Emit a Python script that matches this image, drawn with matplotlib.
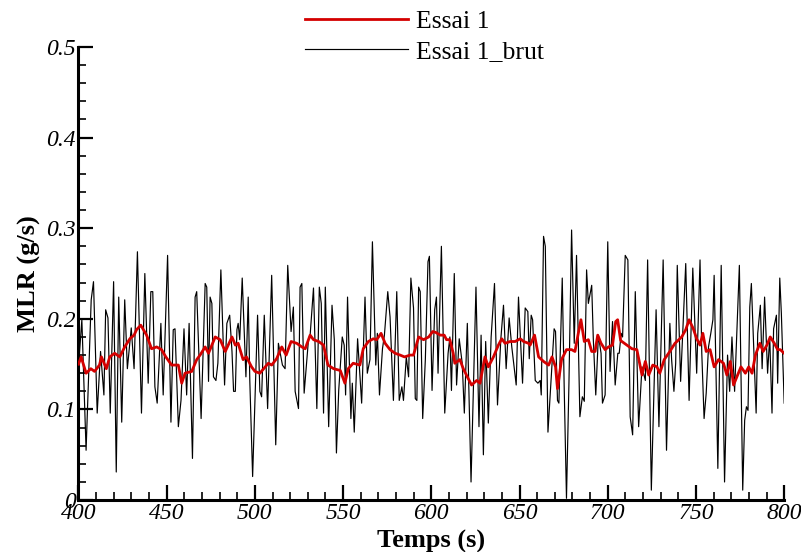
import numpy as np
import matplotlib
matplotlib.use('Agg')
import matplotlib.pyplot as plt
from matplotlib.ticker import MultipleLocator

# raw signal (Essai 1_brut)
t_brut = [400.0, 401.9, 404.3, 407.2, 408.5, 410.6, 412.5, 414.4, 415.4, 416.7,
          418.0, 419.9, 421.4, 422.8, 424.5, 426.2, 427.7, 429.9, 431.5, 433.4,
          435.7, 437.6, 439.5, 441.0, 442.1, 443.3, 444.6, 446.7, 448.0, 450.5,
          452.4, 453.7, 454.7, 456.6, 458.1, 459.8, 461.3, 462.7, 464.6, 466.1,
          467.0, 469.5, 471.8, 472.7, 473.7, 474.6, 475.6, 476.5, 477.9, 479.0,
          480.7, 482.8, 484.1, 485.7, 487.0, 487.9, 488.9, 489.8, 490.5, 491.4,
          492.8, 494.9, 496.2, 497.1, 498.7, 501.5, 502.8, 503.8, 505.3, 507.2,
          509.5, 511.8, 513.3, 515.6, 517.1, 518.6, 520.5, 521.8, 522.8, 524.7,
          525.6, 526.6, 527.9, 530.4, 531.3, 533.2, 535.1, 536.5, 537.6, 538.9,
          539.9, 541.8, 543.7, 545.0, 546.2, 547.5, 549.5, 550.6, 551.4, 552.5,
          554.4, 555.2, 556.3, 558.2, 560.5, 562.4, 563.7, 565.2, 566.6, 568.5,
          569.4, 570.6, 572.3, 573.4, 575.3, 576.6, 578.5, 580.4, 581.8, 583.3,
          584.2, 585.8, 587.1, 588.4, 589.9, 590.9, 591.8, 592.8, 593.7, 595.1,
          596.6, 598.1, 598.9, 600.4, 601.9, 602.9, 603.8, 605.7, 607.6, 609.5,
          610.5, 611.4, 613.0, 614.3, 615.8, 617.5, 618.7, 620.4, 622.5, 625.3,
          627.0, 628.2, 629.5, 630.8, 632.3, 633.9, 635.8, 637.5, 639.4, 640.9,
          642.4, 644.1, 645.6, 648.1, 649.4, 651.7, 653.2, 654.7, 655.5, 656.6,
          657.4, 658.9, 660.4, 661.7, 662.3, 663.6, 664.6, 666.1, 668.0, 669.6,
          670.4, 671.5, 672.3, 674.2, 675.3, 676.6, 678.0, 679.5, 681.0, 682.3,
          684.2, 685.6, 686.7, 688.0, 689.0, 690.9, 691.8, 693.2, 694.7, 696.2,
          697.0, 698.5, 700.0, 701.3, 702.7, 704.2, 705.7, 706.5, 707.6, 708.4,
          709.9, 711.4, 712.7, 714.1, 715.6, 717.5, 719.4, 721.3, 722.6, 724.7,
          727.4, 729.0, 731.4, 733.3, 735.2, 736.2, 737.5, 738.5, 739.4, 741.3,
          744.2, 746.1, 748.2, 750.4, 752.3, 753.3, 754.6, 755.8, 757.1, 758.4,
          759.6, 760.3, 762.4, 764.3, 766.2, 767.9, 769.1, 770.4, 771.9, 774.6,
          776.5, 777.6, 778.6, 779.5, 780.5, 781.4, 782.7, 784.1, 785.0, 786.5,
          787.5, 788.9, 790.6, 791.8, 793.1, 794.0, 795.6, 796.3, 797.5, 798.4,
          800.0]
mlr_brut = [0.147, 0.199, 0.055, 0.221, 0.241, 0.096, 0.164, 0.116, 0.210, 0.201,
            0.096, 0.241, 0.031, 0.224, 0.086, 0.221, 0.145, 0.190, 0.145, 0.274,
            0.096, 0.250, 0.129, 0.230, 0.230, 0.125, 0.107, 0.195, 0.116, 0.270,
            0.086, 0.188, 0.189, 0.081, 0.110, 0.189, 0.116, 0.195, 0.046, 0.224,
            0.230, 0.090, 0.239, 0.235, 0.131, 0.224, 0.217, 0.136, 0.132, 0.151,
            0.254, 0.127, 0.195, 0.204, 0.164, 0.120, 0.120, 0.188, 0.195, 0.177,
            0.245, 0.136, 0.224, 0.132, 0.026, 0.204, 0.120, 0.114, 0.204, 0.101,
            0.248, 0.061, 0.173, 0.149, 0.145, 0.259, 0.186, 0.213, 0.120, 0.101,
            0.235, 0.239, 0.118, 0.178, 0.182, 0.234, 0.101, 0.235, 0.217, 0.096,
            0.235, 0.081, 0.215, 0.177, 0.052, 0.121, 0.180, 0.171, 0.116, 0.224,
            0.090, 0.129, 0.075, 0.178, 0.107, 0.224, 0.140, 0.155, 0.285, 0.149,
            0.184, 0.116, 0.167, 0.182, 0.230, 0.202, 0.110, 0.230, 0.110, 0.125,
            0.110, 0.158, 0.136, 0.245, 0.212, 0.112, 0.110, 0.235, 0.230, 0.090,
            0.155, 0.263, 0.269, 0.121, 0.210, 0.224, 0.140, 0.280, 0.096, 0.162,
            0.180, 0.121, 0.250, 0.127, 0.178, 0.151, 0.096, 0.195, 0.020, 0.235,
            0.081, 0.182, 0.050, 0.175, 0.085, 0.180, 0.239, 0.105, 0.178, 0.215,
            0.145, 0.201, 0.169, 0.127, 0.224, 0.129, 0.212, 0.208, 0.156, 0.204,
            0.199, 0.132, 0.129, 0.132, 0.116, 0.291, 0.280, 0.075, 0.136, 0.189,
            0.186, 0.110, 0.107, 0.245, 0.125, 0.002, 0.129, 0.298, 0.173, 0.270,
            0.092, 0.114, 0.109, 0.254, 0.217, 0.237, 0.178, 0.116, 0.182, 0.162,
            0.107, 0.116, 0.285, 0.142, 0.197, 0.127, 0.162, 0.162, 0.184, 0.180,
            0.270, 0.265, 0.092, 0.072, 0.230, 0.081, 0.147, 0.132, 0.265, 0.011,
            0.210, 0.081, 0.265, 0.055, 0.195, 0.155, 0.120, 0.151, 0.259, 0.131,
            0.261, 0.110, 0.256, 0.140, 0.265, 0.162, 0.090, 0.118, 0.169, 0.184,
            0.199, 0.248, 0.035, 0.259, 0.020, 0.160, 0.120, 0.180, 0.120, 0.259,
            0.011, 0.088, 0.103, 0.099, 0.213, 0.239, 0.169, 0.096, 0.184, 0.215,
            0.145, 0.224, 0.140, 0.180, 0.096, 0.189, 0.204, 0.129, 0.245, 0.206,
            0.107]

# smoothed signal (Essai 1)
t_essai = [400.0, 401.5, 404.3, 407.0, 409.1, 411.9, 413.0, 415.8, 417.7, 420.5,
           423.4, 426.2, 429.1, 431.5, 432.9, 435.3, 438.6, 441.4, 444.3, 447.1,
           449.5, 452.8, 456.6, 458.5, 460.4, 464.2, 467.0, 468.9, 471.8, 473.7,
           477.5, 480.3, 483.2, 487.0, 488.9, 490.5, 493.3, 495.2, 498.1, 500.0,
           502.8, 507.6, 509.5, 512.3, 515.2, 517.7, 520.5, 523.7, 526.6, 528.5,
           531.3, 533.2, 536.1, 538.9, 541.4, 544.6, 548.4, 551.0, 552.9, 555.7,
           559.5, 561.4, 564.3, 567.1, 569.0, 571.5, 573.8, 576.6, 579.5, 582.3,
           584.8, 588.0, 589.9, 592.8, 595.6, 598.5, 600.8, 602.5, 605.1, 607.3,
           608.6, 610.5, 612.4, 613.3, 616.2, 618.1, 620.4, 622.8, 625.7, 627.6,
           630.4, 632.3, 635.2, 638.0, 639.9, 641.8, 644.7, 647.5, 650.4, 652.3,
           655.1, 656.0, 658.5, 660.8, 663.6, 666.5, 668.4, 670.4, 671.5, 673.8,
           676.6, 679.5, 681.4, 683.3, 684.8, 686.7, 689.0, 690.9, 692.8, 694.3,
           696.2, 698.5, 700.4, 702.7, 704.5, 705.6, 707.3, 710.8, 713.7, 716.5,
           719.4, 721.3, 723.2, 725.5, 727.9, 729.5, 732.0, 735.2, 738.1, 741.9,
           744.2, 746.1, 748.5, 750.4, 752.3, 753.9, 755.8, 758.0, 760.3, 762.8,
           765.6, 767.5, 769.5, 771.3, 773.2, 775.5, 778.0, 779.9, 781.8, 783.7,
           786.2, 788.1, 790.2, 792.1, 794.4, 796.3, 797.8, 800.0]
mlr_essai = [0.150, 0.158, 0.140, 0.145, 0.142, 0.149, 0.158, 0.145, 0.158, 0.162,
             0.158, 0.169, 0.178, 0.182, 0.188, 0.193, 0.182, 0.167, 0.169, 0.166,
             0.158, 0.149, 0.149, 0.129, 0.140, 0.142, 0.155, 0.160, 0.169, 0.162,
             0.180, 0.177, 0.164, 0.180, 0.171, 0.173, 0.155, 0.158, 0.147, 0.142,
             0.140, 0.151, 0.149, 0.156, 0.169, 0.160, 0.175, 0.173, 0.169, 0.167,
             0.182, 0.177, 0.175, 0.171, 0.149, 0.145, 0.143, 0.129, 0.145, 0.151,
             0.149, 0.167, 0.175, 0.178, 0.177, 0.184, 0.173, 0.166, 0.162, 0.160,
             0.158, 0.160, 0.160, 0.180, 0.177, 0.180, 0.186, 0.185, 0.182, 0.182,
             0.177, 0.177, 0.162, 0.151, 0.155, 0.145, 0.136, 0.127, 0.132, 0.129,
             0.158, 0.147, 0.158, 0.171, 0.178, 0.173, 0.175, 0.175, 0.178, 0.175,
             0.173, 0.171, 0.182, 0.158, 0.153, 0.149, 0.158, 0.147, 0.123, 0.155,
             0.166, 0.166, 0.164, 0.184, 0.199, 0.175, 0.177, 0.164, 0.164, 0.182,
             0.173, 0.166, 0.169, 0.171, 0.197, 0.199, 0.176, 0.171, 0.167, 0.166,
             0.138, 0.153, 0.138, 0.149, 0.147, 0.140, 0.155, 0.164, 0.173, 0.180,
             0.188, 0.199, 0.189, 0.178, 0.171, 0.184, 0.164, 0.166, 0.147, 0.155,
             0.151, 0.138, 0.153, 0.127, 0.136, 0.147, 0.140, 0.147, 0.140, 0.160,
             0.173, 0.164, 0.171, 0.180, 0.173, 0.166, 0.166, 0.162]

xticks = [400, 450, 500, 550, 600, 650, 700, 750, 800]
yticks = [0, 0.1, 0.2, 0.3, 0.4, 0.5]
ytick_labels = ['0', '0.1', '0.2', '0.3', '0.4', '0.5']

plt.rcParams['font.family'] = ['Liberation Serif', 'DejaVu Serif']

fig = plt.figure(figsize=(8.01, 5.52), dpi=100)
ax = fig.add_axes([0.098, 0.094, 0.881, 0.821])

ax.plot(t_essai, mlr_essai, color='#d40000', lw=2.0, label='Essai 1', zorder=3)
ax.plot(t_brut, mlr_brut, color='black', lw=0.85, label='Essai 1_brut', zorder=2)

ax.set_xlim(400, 800)
ax.set_ylim(0, 0.5)
ax.set_xticks(xticks)
ax.set_xticklabels([str(x) for x in xticks])
ax.set_yticks(yticks)
ax.set_yticklabels(ytick_labels)
ax.xaxis.set_minor_locator(MultipleLocator(10))
ax.yaxis.set_minor_locator(MultipleLocator(0.02))

for side in ['top', 'right']:
    ax.spines[side].set_visible(False)
for side in ['left', 'bottom']:
    ax.spines[side].set_linewidth(2.2)

ax.tick_params(which='major', direction='in', length=11, width=1.6,
               labelsize=17, pad=2)
ax.tick_params(which='minor', direction='in', length=6, width=1.2)
plt.setp(ax.get_xticklabels() + ax.get_yticklabels(), fontstyle='italic')

ax.set_xlabel('Temps (s)', fontsize=19, fontweight='bold', labelpad=4)
ax.set_ylabel('MLR (g/s)', fontsize=19, fontweight='bold', labelpad=4)

leg = fig.legend(loc='upper left', bbox_to_anchor=(0.381, 0.982), frameon=False,
                 fontsize=18.5, handlelength=4.0, handletextpad=0.3,
                 labelspacing=0.28, borderpad=0, borderaxespad=0)

fig.savefig('out.png', dpi=100)
